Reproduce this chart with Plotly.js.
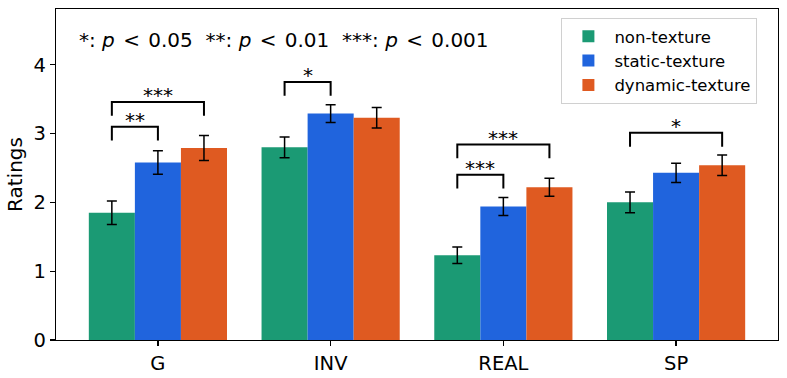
<!DOCTYPE html>
<html>
<head>
<meta charset="utf-8">
<script src="https://cdn.plot.ly/plotly-3.0.1.min.js"></script>
<style>html,body{margin:0;padding:0;background:#fff;}#chart{width:787px;height:378px;}</style>
</head>
<body>
<div id="chart"></div>
<script>
const categories = ['G', 'INV', 'REAL', 'SP'];
const seriesNames = ['non-texture', 'static-texture', 'dynamic-texture'];
const nonTexture = [1.85, 2.80, 1.23, 2.00];
const nonTextureErr = [0.17, 0.15, 0.12, 0.15];
const staticTexture = [2.58, 3.29, 1.94, 2.43];
const staticTextureErr = [0.17, 0.13, 0.13, 0.14];
const dynamicTexture = [2.79, 3.23, 2.22, 2.54];
const dynamicTextureErr = [0.18, 0.15, 0.13, 0.15];
const colors = ['#1b9a74', '#2064dd', '#df5a21'];

// significance brackets: category index, from-series, to-series, bracket height, label
const bracketCat = [0, 0, 1, 2, 2, 3];
const bracketFrom = [0, 0, 0, 0, 0, 0];
const bracketTo = [1, 2, 1, 1, 2, 2];
const bracketY = [3.10, 3.46, 3.75, 2.40, 2.84, 3.01];
const bracketLabel = ['**', '***', '*', '***', '***', '*'];
const bracketLeg = 0.2;

const values = [nonTexture, staticTexture, dynamicTexture];
const errs = [nonTextureErr, staticTextureErr, dynamicTextureErr];

const font = 'DejaVu Sans, sans-serif';
const traces = values.map((v, i) => ({
  type: 'bar', name: seriesNames[i], x: categories, y: v,
  marker: {color: colors[i], line: {width: 0}},
  error_y: {type: 'data', array: errs[i], visible: true, color: '#000', thickness: 1.5, width: 5}
}));

const barW = 0.8 / 3;
const off = s => (s - 1) * barW;
const shapes = [];
const annotations = [];
for (let k = 0; k < bracketCat.length; k++) {
  const x0 = bracketCat[k] + off(bracketFrom[k]);
  const x1 = bracketCat[k] + off(bracketTo[k]);
  const y = bracketY[k];
  shapes.push({type: 'path', xref: 'x', yref: 'y',
    path: `M ${x0},${y - bracketLeg} L ${x0},${y} L ${x1},${y} L ${x1},${y - bracketLeg}`,
    line: {color: '#000', width: 2}});
  annotations.push({xref: 'x', yref: 'y', x: (x0 + x1) / 2, y: y, text: bracketLabel[k],
    showarrow: false, yanchor: 'bottom', font: {family: font, size: 20, color: '#000'}, yshift: -7});
}
const sp = '&#8202;';
annotations.push({xref: 'paper', yref: 'paper', x: 0.029, y: 0.906, xanchor: 'left', yanchor: 'middle',
  text: `*: <i>p</i> ${sp}&lt;${sp} 0.05  **: <i>p</i> ${sp}&lt;${sp} 0.01  ***: <i>p</i> ${sp}&lt;${sp} 0.001`, showarrow: false,
  font: {family: font, size: 20, color: '#000'}});

const layout = {
  width: 787, height: 378,
  margin: {l: 56, r: 9, t: 9, b: 38},
  paper_bgcolor: '#fff', plot_bgcolor: '#fff',
  barmode: 'group', bargap: 0.2, bargroupgap: 0,
  font: {family: font, color: '#000'},
  xaxis: {type: 'category', range: [-0.59, 3.59], showline: true, mirror: true, linecolor: '#000', linewidth: 1.3,
    ticks: 'outside', ticklen: 5, tickwidth: 1.3, tickcolor: '#000', showgrid: false,
    tickfont: {family: font, size: 19.5, color: '#000'}},
  yaxis: {range: [0, 4.81], dtick: 1, showline: true, mirror: true, linecolor: '#000', linewidth: 1.3,
    ticks: 'outside', ticklen: 5, tickwidth: 1.3, tickcolor: '#000', showgrid: false, zeroline: false,
    tickfont: {family: font, size: 19.5, color: '#000'},
    title: {text: 'Ratings', font: {family: font, size: 20, color: '#000'}, standoff: 5}},
  legend: {x: 0.70, y: 0.973, xanchor: 'left', yanchor: 'top', bgcolor: '#fff', bordercolor: '#d0d0d0', borderwidth: 1,
    font: {family: font, size: 16.5, color: '#000'}, tracegroupgap: 0, itemwidth: 42,
    entrywidth: 192, entrywidthmode: 'pixels'},
  shapes: shapes, annotations: annotations, showlegend: true
};
Plotly.newPlot('chart', traces, layout, {staticPlot: true, displayModeBar: false});
</script>
</body>
</html>
